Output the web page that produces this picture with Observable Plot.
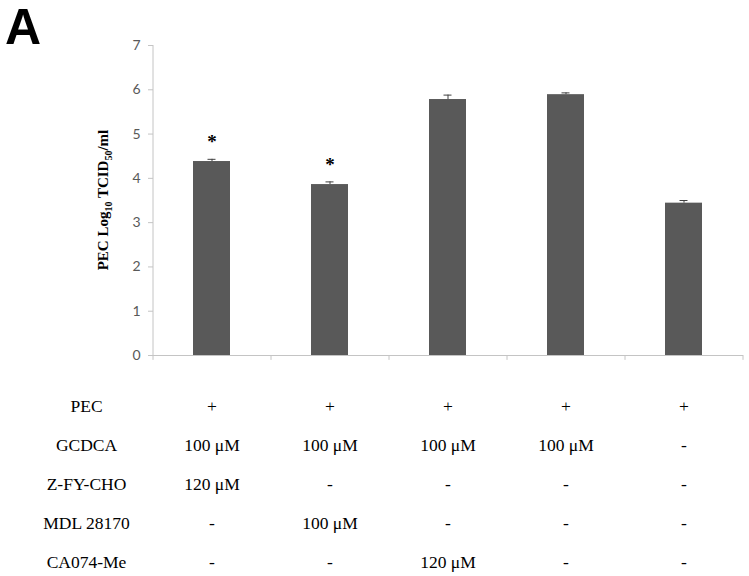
<!DOCTYPE html>
<html><head><meta charset="utf-8">
<script src="https://cdn.jsdelivr.net/npm/d3@7"></script>
<script src="https://cdn.jsdelivr.net/npm/@observablehq/plot@0.6"></script>
<style>
body{margin:0;background:#fff;}
#wrap{position:relative;width:749px;height:576px;}
#wrap svg{display:block;}
</style></head><body><div id="wrap"></div>
<script>
// ---- data ----
const groups = ["G1", "G2", "G3", "G4", "G5"];
const means = [4.38, 3.86, 5.78, 5.89, 3.44];
const errors = [0.05, 0.06, 0.10, 0.04, 0.06];
const stars = ["*", "*", "", "", ""];
const yTicks = [0, 1, 2, 3, 4, 5, 6, 7];
const rowNames = ["PEC", "GCDCA", "Z-FY-CHO", "MDL 28170", "CA074-Me"];
const rowPEC = ["+", "+", "+", "+", "+"];
const rowGCDCA = ["100 μM", "100 μM", "100 μM", "100 μM", "-"];
const rowZFY = ["120 μM", "-", "-", "-", "-"];
const rowMDL = ["-", "100 μM", "-", "-", "-"];
const rowCA = ["-", "-", "120 μM", "-", "-"];
const rowValues = [rowPEC, rowGCDCA, rowZFY, rowMDL, rowCA];

// ---- layout ----
const W = 749, mL = 153, mR = 6;
const step = (W - mL - mR) / groups.length;
const padIn = 0.685, padOut = padIn / 2;
const axisGrey = "#c4c4c4";
const barFill = "#595959";

const bars = groups.map((g, i) => ({g, mean: means[i], err: errors[i], star: stars[i]}));
const cells = [];
rowNames.forEach((r, j) => groups.forEach((g, i) => cells.push({row: r, g, value: rowValues[j][i]})));

const chart = Plot.plot({
  width: W, height: 370,
  marginLeft: mL, marginRight: mR, marginTop: 45, marginBottom: 15,
  style: {fontFamily: "Lato, 'Open Sans', sans-serif", fontSize: "14px", background: "white"},
  x: {type: "band", domain: groups, paddingInner: padIn, paddingOuter: padOut, axis: null},
  y: {domain: [0, 7]},
  marks: [
    Plot.axisY({ticks: yTicks, tickFormat: "d", tickSize: 5, tickPadding: 8, color: "#595959", stroke: axisGrey, label: null, fontSize: 14}),
    Plot.ruleY([0], {stroke: axisGrey}),
    Plot.ruleX([groups[0]], {x: d => d, dx: -step / 2, y1: () => -0.11, y2: () => 7, stroke: axisGrey}),
    Plot.ruleX(groups.slice(1), {x: d => d, dx: -step / 2, y1: () => -0.11, y2: () => 0, stroke: axisGrey}),
    Plot.ruleX([groups[groups.length - 1]], {x: d => d, dx: step / 2, y1: () => -0.11, y2: () => 0, stroke: axisGrey}),
    Plot.barY(bars, {x: "g", y: "mean", fill: barFill}),
    Plot.ruleX(bars, {x: "g", y1: "mean", y2: d => d.mean + d.err, stroke: "#404040"}),
    Plot.tickY(bars, {x: "g", y: d => d.mean + d.err, insetLeft: 14.5, insetRight: 14.5, stroke: "#404040"}),
    Plot.text(bars.filter(d => d.star), {x: "g", y: d => d.mean + d.err, text: "star", dy: -17,
      fontSize: 19, fontWeight: "bold", fontFamily: "'Liberation Serif', serif", fill: "black"})
  ]
});

// y-axis title with subscripts, and panel letter
const svg = d3.select(chart);
const lab = svg.append("text")
  .attr("transform", "translate(108,200) rotate(-90)")
  .attr("text-anchor", "middle")
  .attr("font-family", "'Liberation Serif', serif")
  .attr("font-weight", "bold")
  .attr("font-size", 15)
  .attr("fill", "black");
lab.append("tspan").text("PEC Log");
lab.append("tspan").attr("font-size", 10).attr("dy", 4).text("10");
lab.append("tspan").attr("dy", -4).text(" TCID");
lab.append("tspan").attr("font-size", 10).attr("dy", 4).text("50");
lab.append("tspan").attr("dy", -4).text("/ml");

svg.append("text")
  .attr("x", 5).attr("y", 44)
  .attr("text-anchor", "start")
  .attr("font-family", "'Liberation Sans', Arial, sans-serif")
  .attr("font-weight", "bold")
  .attr("font-size", 50)
  .attr("fill", "black")
  .text("A");

const table = Plot.plot({
  width: W, height: 206,
  marginLeft: mL, marginRight: mR, marginTop: 0, marginBottom: 0,
  style: {background: "white"},
  x: {type: "band", domain: groups, paddingInner: padIn, paddingOuter: padOut, axis: null},
  y: {type: "point", domain: rowNames, range: [35, 192], padding: 0, axis: null},
  marks: [
    Plot.text(cells, {x: "g", y: "row", text: "value", fontFamily: "'Liberation Serif', serif", fontSize: 17.5, fill: "black"}),
    Plot.text(rowNames, {y: d => d, text: d => d, frameAnchor: "left", dx: -67, textAnchor: "middle",
      fontFamily: "'Liberation Serif', serif", fontSize: 17.5, fill: "black"})
  ]
});

const wrap = document.getElementById("wrap");
wrap.appendChild(chart);
wrap.appendChild(table);
</script>
</body></html>
